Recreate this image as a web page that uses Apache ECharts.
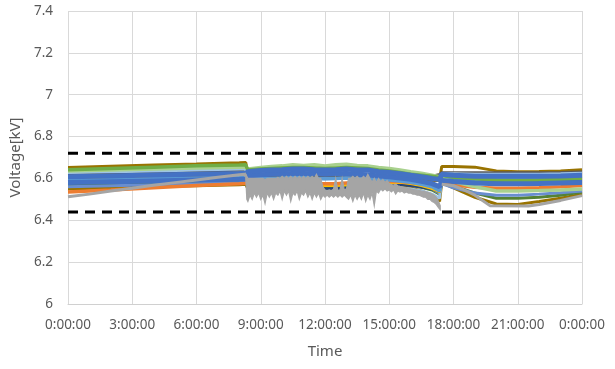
<!DOCTYPE html>
<html><head><meta charset="utf-8">
<script src="https://cdn.jsdelivr.net/npm/echarts@6/dist/echarts.min.js"></script>
<style>html,body{margin:0;padding:0;background:#fff}#c{width:615px;height:369px}</style>
</head><body><div id="c"></div>
<script>
// hours of day for the smooth profiles
const T = [0, 2, 4, 6, 8, 8.3, 8.4, 9, 9.5, 10, 10.5, 11, 11.5, 12, 12.5, 13, 13.5, 14, 14.5, 15, 15.5, 16, 16.5, 17, 17.35, 17.45, 18, 19, 20, 21, 22, 23, 24];

const brownTop  = [6.652,6.658,6.664,6.669,6.675,6.676,6.61,6.612,6.612,6.615,6.615,6.615,6.612,6.612,6.612,6.615,6.612,6.61,6.605,6.60,6.598,6.595,6.592,6.59,6.59,6.657,6.657,6.654,6.636,6.632,6.633,6.636,6.642];
const darkGray  = [6.622,6.626,6.63,6.634,6.638,6.64,6.605,6.605,6.605,6.605,6.605,6.605,6.605,6.605,6.605,6.605,6.605,6.60,6.60,6.60,6.60,6.602,6.606,6.612,6.62,6.628,6.628,6.628,6.628,6.628,6.628,6.629,6.632];
const green1    = [6.642,6.648,6.654,6.66,6.664,6.665,6.64,6.645,6.648,6.65,6.652,6.652,6.65,6.648,6.65,6.652,6.65,6.648,6.64,6.635,6.628,6.62,6.615,6.61,6.605,6.615,6.605,6.598,6.592,6.59,6.592,6.596,6.60];
const lightGreen= [6.636,6.64,6.645,6.65,6.654,6.655,6.645,6.652,6.657,6.66,6.665,6.662,6.665,6.66,6.665,6.668,6.662,6.66,6.652,6.648,6.64,6.632,6.625,6.615,6.608,6.60,6.585,6.56,6.54,6.54,6.542,6.545,6.55];
const blue1     = [6.608,6.612,6.616,6.62,6.624,6.625,6.632,6.638,6.64,6.642,6.645,6.645,6.642,6.64,6.642,6.645,6.64,6.64,6.632,6.628,6.622,6.615,6.608,6.60,6.595,6.62,6.615,6.61,6.61,6.61,6.61,6.612,6.615];
const blue2     = [6.58,6.584,6.588,6.592,6.596,6.597,6.612,6.618,6.62,6.622,6.624,6.624,6.622,6.62,6.622,6.624,6.62,6.618,6.612,6.608,6.602,6.596,6.586,6.575,6.56,6.59,6.585,6.578,6.575,6.575,6.576,6.578,6.58];
const lightBlue1= [6.59,6.594,6.598,6.602,6.606,6.607,6.598,6.60,6.60,6.602,6.604,6.604,6.60,6.598,6.60,6.602,6.60,6.598,6.595,6.592,6.588,6.582,6.572,6.56,6.54,6.60,6.598,6.595,6.595,6.595,6.596,6.598,6.60];
const lightBlue2= [6.628,6.632,6.636,6.64,6.645,6.646,6.545,6.545,6.545,6.548,6.548,6.548,6.545,6.54,6.54,6.542,6.545,6.548,6.55,6.555,6.555,6.55,6.54,6.525,6.505,6.622,6.622,6.62,6.62,6.62,6.62,6.622,6.625];
const gold      = [6.60,6.602,6.605,6.608,6.61,6.61,6.565,6.565,6.568,6.57,6.57,6.57,6.568,6.565,6.565,6.568,6.57,6.572,6.575,6.578,6.58,6.575,6.565,6.55,6.535,6.605,6.603,6.60,6.60,6.60,6.60,6.602,6.605];
const orange    = [6.535,6.545,6.556,6.566,6.575,6.577,6.585,6.585,6.58,6.578,6.578,6.578,6.576,6.575,6.575,6.578,6.58,6.582,6.585,6.585,6.585,6.58,6.575,6.568,6.56,6.575,6.57,6.558,6.553,6.553,6.555,6.56,6.566];
const darkBlue  = [6.595,6.597,6.60,6.602,6.605,6.606,6.555,6.555,6.555,6.556,6.556,6.556,6.555,6.552,6.552,6.554,6.556,6.558,6.56,6.565,6.57,6.565,6.558,6.548,6.535,6.59,6.588,6.585,6.585,6.585,6.586,6.588,6.59];
const green2    = [6.57,6.573,6.577,6.58,6.584,6.585,6.56,6.56,6.562,6.562,6.562,6.562,6.56,6.558,6.558,6.56,6.562,6.565,6.568,6.572,6.574,6.568,6.558,6.545,6.525,6.585,6.565,6.53,6.505,6.505,6.51,6.52,6.535];
const brownLow  = [6.55,6.555,6.56,6.565,6.57,6.572,6.55,6.55,6.55,6.552,6.552,6.552,6.55,6.548,6.548,6.55,6.552,6.555,6.558,6.56,6.562,6.555,6.54,6.52,6.49,6.58,6.555,6.51,6.478,6.476,6.49,6.505,6.525];
const blue3     = [6.56,6.565,6.57,6.575,6.58,6.582,6.595,6.598,6.60,6.60,6.602,6.602,6.60,6.598,6.60,6.602,6.60,6.598,6.595,6.59,6.585,6.578,6.565,6.55,6.53,6.575,6.555,6.53,6.52,6.52,6.525,6.532,6.54];

// grey profile at night and in the evening
const grayLineT = [0,1,2,3,4,5,6,7,8,8.25,8.3, null, 17.45,18,18.5,19,19.7,21.5,22,23,24];
const grayLineV = [6.512,6.525,6.54,6.553,6.567,6.58,6.593,6.606,6.618,6.62,6.61, null, 6.572,6.565,6.545,6.52,6.47,6.468,6.475,6.495,6.518];

// grey profile in the daytime: fast fluctuation, upper and lower envelope
const grayDayT = [8.3,8.35,8.4,8.5,8.6,8.7,8.8,8.9,9.0,9.1,9.2,9.3,9.4,9.5,9.6,9.7,9.8,9.9,
 10.0,10.1,10.2,10.3,10.4,10.5,10.6,10.7,10.8,10.9,11.0,11.1,11.2,11.3,11.4,11.5,11.6,11.7,11.8,11.9,
 12.0,12.1,12.2,12.3,12.4,12.5,12.6,12.7,12.8,12.9,13.0,13.1,13.2,13.3,13.4,13.5,13.6,13.7,13.8,13.9,
 14.0,14.1,14.2,14.3,14.4,14.5,14.6,14.7,14.8,14.9,15.0,15.1,15.2,15.3,15.4,15.5,15.6,15.7,15.8,15.9,
 16.0,16.1,16.2,16.3,16.4,16.5,16.6,16.7,16.8,16.9,17.0,17.1,17.2,17.3,17.38];
const grayDayHi = [6.62,6.61,6.60,6.60,6.60,6.60,6.60,6.60,6.60,6.60,6.595,6.60,6.60,6.60,6.60,6.60,6.605,6.60,
 6.61,6.60,6.61,6.60,6.61,6.60,6.61,6.60,6.61,6.60,6.61,6.60,6.61,6.60,6.61,6.60,6.62,6.60,6.60,6.56,
 6.545,6.54,6.545,6.54,6.55,6.60,6.54,6.545,6.60,6.545,6.55,6.60,6.60,6.61,6.60,6.61,6.60,6.60,6.61,6.60,
 6.62,6.60,6.58,6.60,6.58,6.60,6.585,6.595,6.58,6.59,6.575,6.57,6.568,6.572,6.565,6.562,6.56,6.558,6.556,6.553,
 6.55,6.548,6.546,6.544,6.542,6.54,6.538,6.536,6.533,6.53,6.525,6.52,6.51,6.49,6.47];
const grayDayLo = [6.60,6.50,6.49,6.52,6.50,6.53,6.51,6.53,6.50,6.52,6.48,6.53,6.51,6.53,6.50,6.53,6.52,6.54,
 6.50,6.54,6.52,6.54,6.49,6.53,6.52,6.54,6.50,6.53,6.52,6.54,6.51,6.53,6.50,6.53,6.51,6.53,6.50,6.52,
 6.51,6.52,6.51,6.52,6.51,6.52,6.51,6.52,6.51,6.52,6.51,6.50,6.52,6.49,6.52,6.50,6.52,6.50,6.53,6.49,
 6.52,6.50,6.53,6.47,6.54,6.53,6.55,6.54,6.55,6.54,6.545,6.535,6.545,6.525,6.54,6.535,6.54,6.53,6.535,6.53,
 6.53,6.525,6.525,6.52,6.52,6.515,6.51,6.51,6.50,6.50,6.49,6.485,6.475,6.46,6.45];

const limits = [6.72, 6.44];
const yTicks = {min: 6, max: 7.4, step: 0.2};
const xTicks = {min: 0, max: 24, step: 3};

const profiles = [
  ['brownTop', brownTop, '#997300', 3],
  ['darkGray', darkGray, '#595959', 2.5],
  ['brownLow', brownLow, '#997300', 3],
  ['green2', green2, '#548235', 3],
  ['blue3', blue3, '#698ED0', 3],
  ['lightBlue2', lightBlue2, '#9DC3E6', 3],
  ['darkBlue', darkBlue, '#264478', 2.5],
  ['gold', gold, '#FFC000', 2.5],
  ['orange', orange, '#ED7D31', 3.5],
  ['lightBlue1', lightBlue1, '#5B9BD5', 3.5],
  ['lightGreen', lightGreen, '#A9D18E', 3.5],
  ['green1', green1, '#70AD47', 3.5],
  ['blue2', blue2, '#4472C4', 5],
  ['blue1', blue1, '#4472C4', 5]
];

const series = profiles.map(([name, vals, color, w]) => ({
  name, type: 'line', symbol: 'none', animation: false, z: 2,
  data: T.map((t, i) => [t, vals[i]]),
  lineStyle: {color, width: w}, itemStyle: {color}
}));
series.push({
  name: 'gray', type: 'line', symbol: 'none', animation: false, connectNulls: false, z: 3,
  data: grayLineT.map((t, i) => t === null ? [null, null] : [t, grayLineV[i]]),
  lineStyle: {color: '#A5A5A5', width: 3}, itemStyle: {color: '#A5A5A5'}
});
// daytime grey band: polygon through upper envelope and back along lower envelope
series.push({
  name: 'grayDay', type: 'custom', animation: false, z: 3,
  data: grayDayT.map((t, i) => [t, grayDayLo[i], grayDayHi[i]]),
  encode: {x: 0, y: [1, 2]},
  renderItem: (params, api) => {
    if (params.dataIndex !== 0) return null;
    const pts = [];
    for (let i = 0; i < grayDayT.length; i++) pts.push(api.coord([grayDayT[i], grayDayHi[i]]));
    for (let i = grayDayT.length - 1; i >= 0; i--) pts.push(api.coord([grayDayT[i], grayDayLo[i]]));
    return {
      type: 'polygon', shape: {points: pts},
      style: {fill: '#A5A5A5', stroke: '#A5A5A5', lineWidth: 1.2}
    };
  }
});
limits.forEach((v, k) => series.push({
  name: 'limit' + k, type: 'line', symbol: 'none', animation: false, z: 5,
  data: [[xTicks.min, v], [xTicks.max, v]],
  lineStyle: {color: '#000', width: 3, type: [10, 7]}
}));

const font = '"Noto Sans", sans-serif';
const chart = echarts.init(document.getElementById('c'), null, {renderer: 'canvas'});
chart.setOption({
  backgroundColor: '#fff',
  animation: false,
  grid: {left: 68, right: 33, top: 11, bottom: 65},
  xAxis: {
    type: 'value', min: xTicks.min, max: xTicks.max, interval: xTicks.step,
    name: 'Time', nameLocation: 'middle', nameGap: 40,
    nameTextStyle: {color: '#595959', fontSize: 15, fontFamily: font},
    axisLine: {show: true, lineStyle: {color: '#d0d0d0', width: 1}},
    axisTick: {show: false},
    axisLabel: {color: '#595959', fontSize: 13.5, fontFamily: font, margin: 14,
      formatter: v => (v % 24) + ':00:00'},
    splitLine: {show: true, lineStyle: {color: '#d9d9d9', width: 1}}
  },
  yAxis: {
    type: 'value', min: yTicks.min, max: yTicks.max, interval: yTicks.step,
    name: 'Voltage[kV]', nameLocation: 'middle', nameGap: 38,
    nameTextStyle: {color: '#595959', fontSize: 15, fontFamily: font},
    axisLine: {show: false}, axisTick: {show: false},
    axisLabel: {color: '#595959', fontSize: 13.5, fontFamily: font, margin: 15,
      formatter: v => String(Math.round(v * 10) / 10)},
    splitLine: {show: true, lineStyle: {color: '#d9d9d9', width: 1}}
  },
  series
});
</script></body></html>
